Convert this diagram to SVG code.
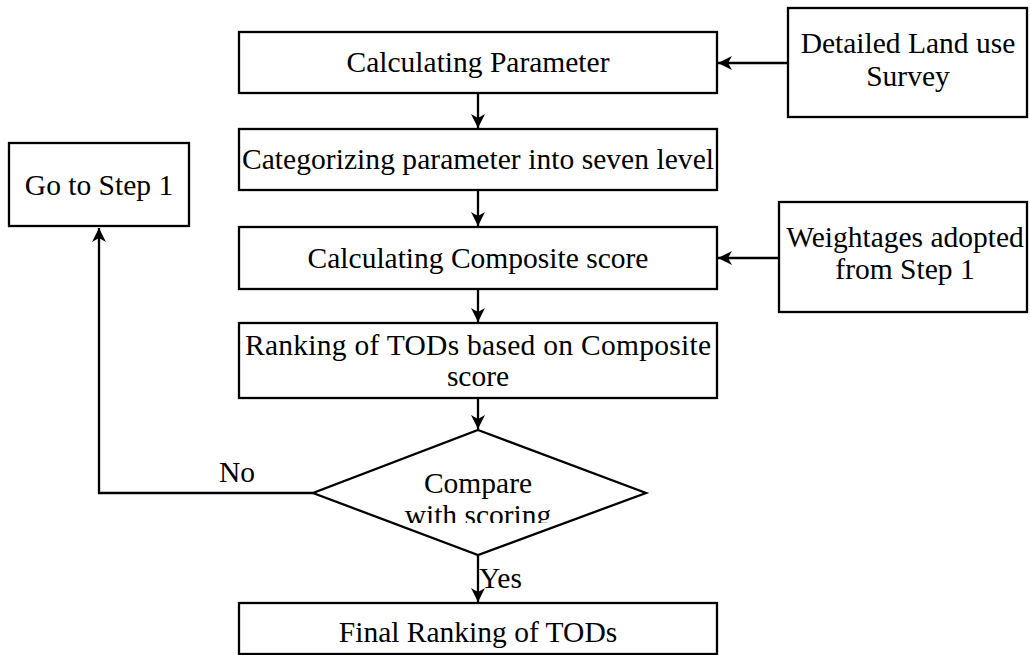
<svg xmlns="http://www.w3.org/2000/svg" width="1030" height="655" viewBox="0 0 1030 655">
  <defs>
    <style>
      .box { fill: #ffffff; stroke: #000000; stroke-width: 2.3; }
      .lbl { font-family: "Liberation Serif", "Times New Roman", serif; font-size: 29.5px; fill: #000000; text-anchor: middle; }
      .tag { font-family: "Liberation Serif", "Times New Roman", serif; font-size: 29.5px; fill: #000000; }
      .edge { fill: none; stroke: #000000; stroke-width: 2.3; }
    </style>
    <marker id="arrow" viewBox="0 0 16 16" refX="15" refY="8" markerWidth="16" markerHeight="16" markerUnits="userSpaceOnUse" orient="auto">
      <path d="M15,8 L1,1 L5,8 L1,15 Z" fill="#000000"/>
    </marker>
    <clipPath id="diamondTextClip">
      <rect x="380" y="440" width="200" height="83"/>
    </clipPath>
  </defs>

  <rect width="1030" height="655" fill="#ffffff"/>

  <!-- connectors -->
  <g id="connectors">
    <line class="edge" x1="788" y1="63" x2="718" y2="63" marker-end="url(#arrow)"/>
    <line class="edge" x1="478" y1="94" x2="478" y2="128" marker-end="url(#arrow)"/>
    <line class="edge" x1="478" y1="191" x2="478" y2="226" marker-end="url(#arrow)"/>
    <line class="edge" x1="779" y1="258" x2="718" y2="258" marker-end="url(#arrow)"/>
    <line class="edge" x1="478" y1="290" x2="478" y2="322" marker-end="url(#arrow)"/>
    <line class="edge" x1="478" y1="399" x2="478" y2="429" marker-end="url(#arrow)"/>
    <polyline class="edge" points="313,493 99,493 99,228" marker-end="url(#arrow)"/>
    <line class="edge" x1="478" y1="555" x2="478" y2="602" marker-end="url(#arrow)"/>
    <text class="tag" x="219" y="482">No</text>
    <text class="tag" x="479" y="588">Yes</text>
  </g>

  <!-- process steps -->
  <g id="calc-parameter">
    <rect class="box" x="239" y="32" width="478" height="61"/>
    <text class="lbl" x="478" y="72">Calculating Parameter</text>
  </g>

  <g id="land-use-survey">
    <rect class="box" x="788" y="8" width="239" height="109"/>
    <text class="lbl" x="908" y="53">Detailed Land use</text>
    <text class="lbl" x="908" y="86">Survey</text>
  </g>

  <g id="categorize">
    <rect class="box" x="239" y="129" width="478" height="61"/>
    <text class="lbl" x="478" y="169" textLength="472" lengthAdjust="spacing">Categorizing parameter into seven level</text>
  </g>

  <g id="go-to-step1">
    <rect class="box" x="9" y="143" width="180" height="83"/>
    <text class="lbl" x="99" y="195">Go to Step 1</text>
  </g>

  <g id="composite-score">
    <rect class="box" x="239" y="227" width="478" height="62"/>
    <text class="lbl" x="478" y="268">Calculating Composite score</text>
  </g>

  <g id="weightages">
    <rect class="box" x="779" y="202" width="248" height="110"/>
    <text class="lbl" x="905" y="247">Weightages adopted</text>
    <text class="lbl" x="905" y="279">from Step 1</text>
  </g>

  <g id="ranking">
    <rect class="box" x="239" y="323" width="478" height="75"/>
    <text class="lbl" x="478" y="355" textLength="466" lengthAdjust="spacing">Ranking of TODs based on Composite</text>
    <text class="lbl" x="478" y="386">score</text>
  </g>

  <g id="compare">
    <polygon class="box" points="478,430 646,493 478,555 313,493"/>
    <!-- second line is cut off along its baseline -->
    <g clip-path="url(#diamondTextClip)">
      <text class="lbl" x="478" y="493">Compare</text>
      <text class="lbl" x="478" y="525">with scoring</text>
    </g>
  </g>

  <g id="final-ranking">
    <rect class="box" x="239" y="603" width="478" height="51"/>
    <text class="lbl" x="478" y="642">Final Ranking of TODs</text>
  </g>
</svg>
